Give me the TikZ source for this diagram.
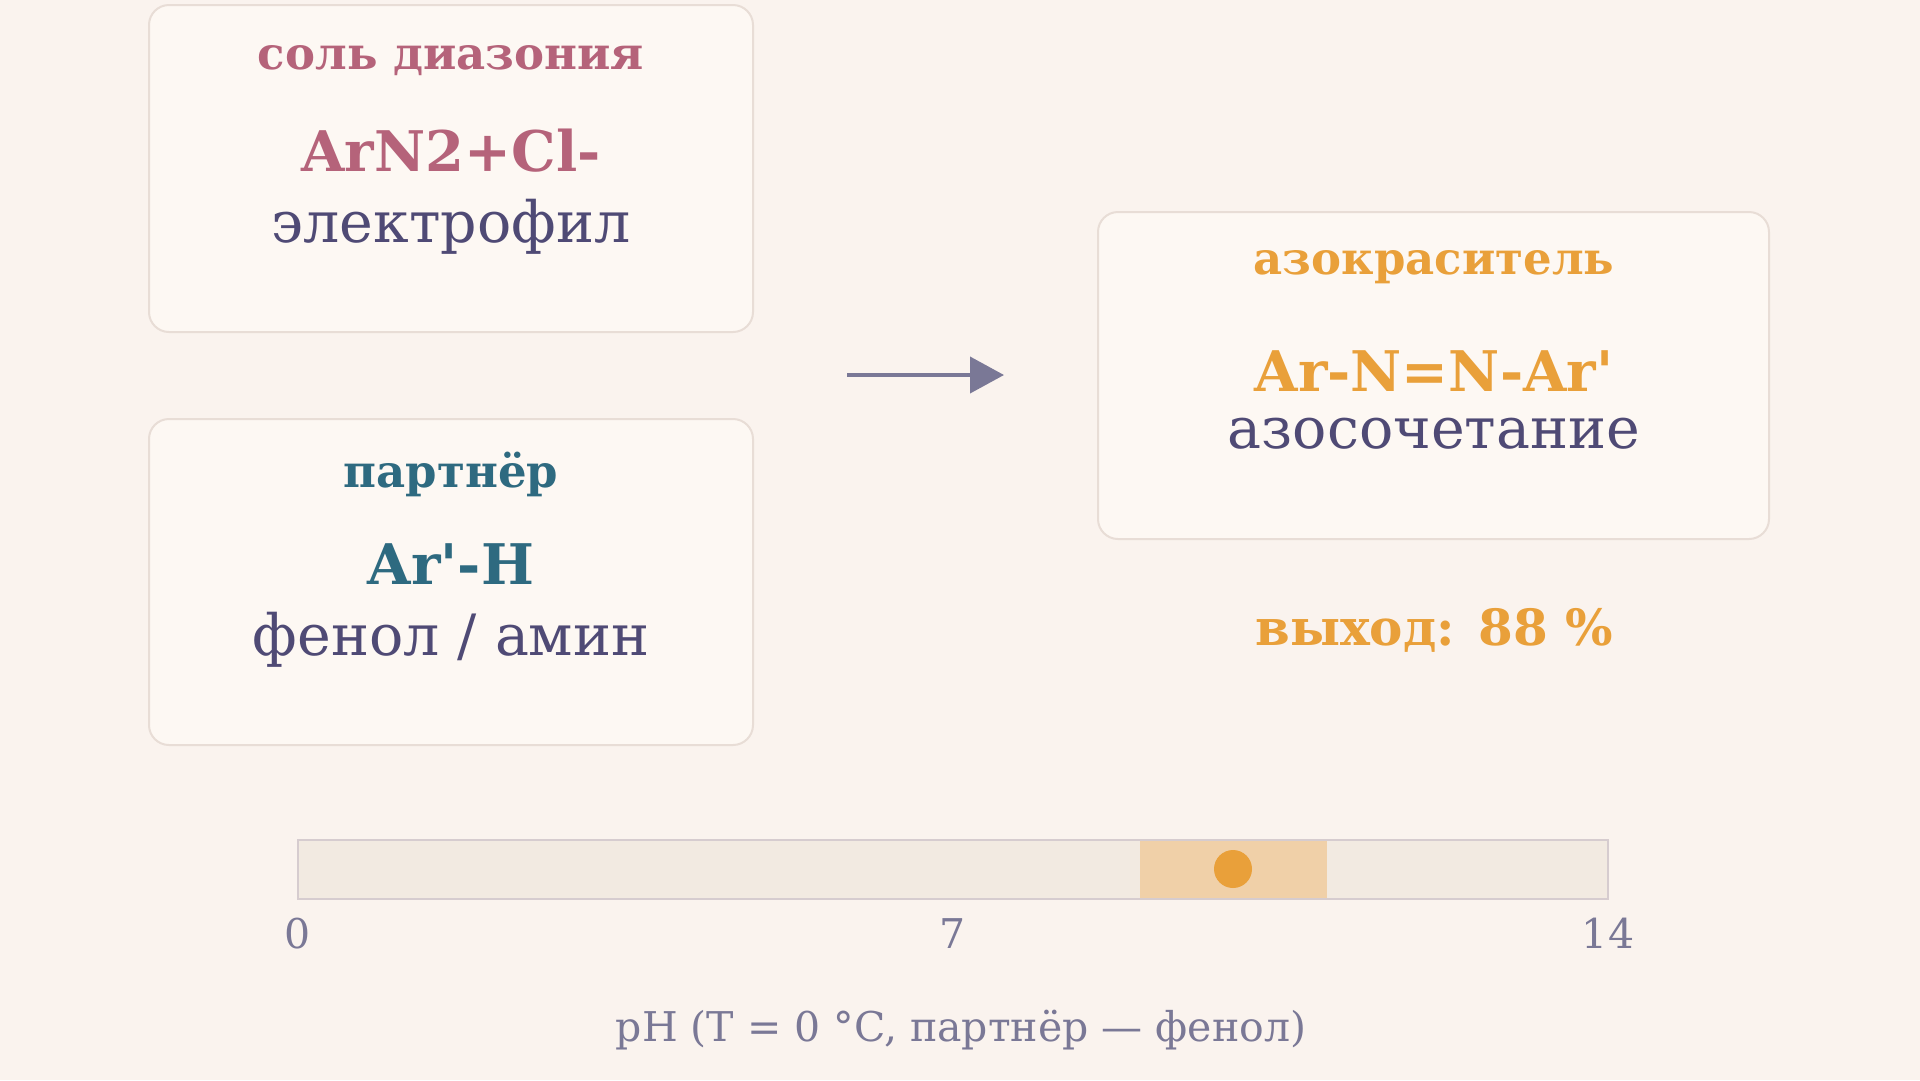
\documentclass[tikz,border=0pt]{standalone}
\usepackage{fontspec}
\setmainfont{DejaVu Serif}
\usetikzlibrary{arrows.meta}

\definecolor{bgcol}{HTML}{FAF3EE}
\definecolor{boxfill}{HTML}{FDF8F3}
\definecolor{boxline}{HTML}{E8DDD6}
\definecolor{rosecol}{HTML}{B5637A}
\definecolor{tealcol}{HTML}{2E6A80}
\definecolor{orangecol}{HTML}{E9A03A}
\definecolor{inkcol}{HTML}{4F4A75}
\definecolor{greycol}{HTML}{7A7896}
\definecolor{barfill}{HTML}{F2EAE1}
\definecolor{barline}{HTML}{D6CCCF}
\definecolor{bandfill}{HTML}{F0D0A8}

\tikzset{
  card/.style={draw=boxline, line width=2pt, fill=boxfill, rounded corners=20pt},
  cardtitle/.style={anchor=base, font=\fontsize{45}{54}\selectfont\bfseries},
  formula/.style={anchor=base, font=\fontsize{56}{66}\selectfont\bfseries},
  subtext/.style={anchor=base, text=inkcol, font=\fontsize{57}{68}\selectfont},
  ticklabel/.style={anchor=base, text=greycol, font=\fontsize{41}{49}\selectfont}
}

\begin{document}
\begin{tikzpicture}[x=1pt, y=-1pt]

    % Background and page size
    \fill[bgcol] (0,0) rectangle (1920,1080);
    \useasboundingbox (0,0) rectangle (1920,1080);

    % The three cards
    \draw[card] (149,5) rectangle (753,332);
    \draw[card] (149,419) rectangle (753,745);
    \draw[card] (1098,212) rectangle (1769,539);

    % Diazonium salt
    \node[cardtitle, text=rosecol] (saltT) at (451,69) {соль диазония};
    \node[formula, text=rosecol] (saltF) at (451,171) {ArN2+Cl-};
    \node[subtext] (saltS) at (451,242) {электрофил};

    % Coupling partner
    \node[cardtitle, text=tealcol] (partT) at (451,487) {партнёр};
    \node[formula, text=tealcol] (partF) at (451,584) {Ar\textquotesingle-H};
    \node[subtext] (partS) at (451,655) {фенол / амин};

    % Azo dye
    \node[cardtitle, text=orangecol] (dyeT) at (1434,274) {азокраситель};
    \node[formula, text=orangecol] (dyeF) at (1434,391) {Ar-N=N-Ar\textquotesingle};
    \node[subtext] (dyeS) at (1434,448) {азосочетание};

    % Yield
    \node[anchor=base, text=orangecol, font=\fontsize{50}{60}\selectfont\bfseries] (yield) at (1434,645) {выход: 88~\%};

    % Reaction arrow
    \coordinate (arrS) at (847,375);
    \coordinate (arrE) at (1004,375);
    \draw[greycol, line width=4pt, -{Triangle[length=34pt, width=36pt]}] (arrS) -- (arrE);

    % pH bar with the working range
    \draw[barline, line width=2pt, fill=barfill] (298,840) rectangle (1608,899);
    \fill[bandfill] (1140,841) rectangle (1327,898);
    \fill[orangecol] (1233,869) circle (19);

    % Scale labels
    \node[ticklabel] (t0) at (298,948) {0};
    \node[ticklabel] (t7) at (953,948) {7};
    \node[ticklabel] (t14) at (1608,948) {14};
    \node[ticklabel] (caption) at (961,1041) {pH (T = 0 °C, партнёр — фенол)};

\end{tikzpicture}
\end{document}
